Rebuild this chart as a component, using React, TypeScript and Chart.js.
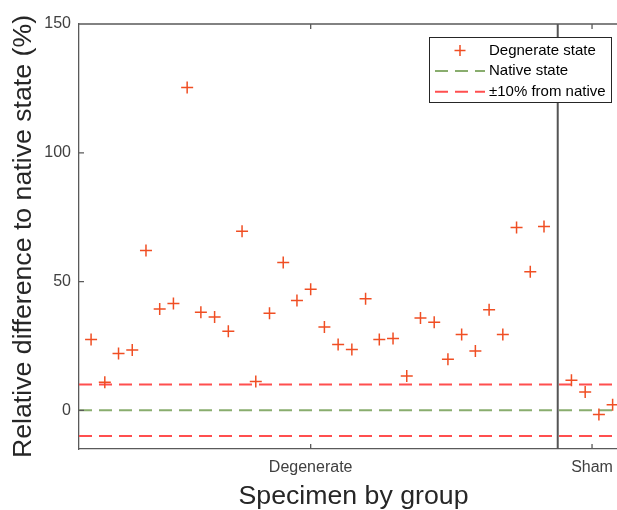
import React, { useEffect, useRef } from 'react';
import { Chart, registerables } from 'chart.js';

Chart.register(...registerables);

// ---- data ----
const degenerateValues = [
  27.5, 10.9, 22.1, 23.4, 62.1, 39.4, 41.5, 125.3, 38.1, 36.2,
  30.7, 69.5, 11.2, 37.7, 57.4, 42.7, 47.0, 32.4, 25.6, 23.6,
  43.3, 27.5, 27.9, 13.3, 35.9, 34.2, 19.8, 29.5, 23.0, 39.1,
  29.5, 71.0, 53.8, 71.4,
];
const shamValues = [11.7, 7.1, -1.6, 2.2];
const groupLabels = ['Degenerate', 'Sham'];
const groupTickPositions = [17, 37.5];
const yTickValues = [0, 50, 100, 150];
const nativeLevel = 0;
const toleranceLevels = [10, -10];
const xRange = [0.12, 40.12];
const yRange = [-15, 150];

const FONT = '"Liberation Sans", Arial, Helvetica, sans-serif';
const AXIS_COLOR = '#5a5a5a';
const MARKER_COLOR = '#f04e23';
const RED_DASH = '#ff4f4f';
const GREEN_DASH = '#89ad6e';

const axisDecorPlugin = {
  id: 'axisDecor',
  afterDatasetsDraw(chart: any) {
    const { ctx, chartArea } = chart;
    const { left, right, top, bottom } = chartArea;
    ctx.save();
    ctx.strokeStyle = AXIS_COLOR;
    ctx.lineWidth = 1.3;
    ctx.beginPath();
    ctx.moveTo(left, top);
    ctx.lineTo(right, top);
    ctx.moveTo(right, top);
    ctx.lineTo(right, bottom);
    const ys = chart.scales.y;
    ys.ticks.forEach((t: any) => {
      const py = ys.getPixelForValue(t.value);
      ctx.moveTo(left, py);
      ctx.lineTo(left + 5, py);
    });
    const xs = chart.scales.x;
    xs.ticks.forEach((t: any) => {
      const px = xs.getPixelForValue(t.value);
      ctx.moveTo(px, bottom);
      ctx.lineTo(px, bottom - 5);
      ctx.moveTo(px, top);
      ctx.lineTo(px, top + 5);
    });
    ctx.stroke();
    ctx.restore();
  },
};

const boxLegendPlugin = {
  id: 'boxLegend',
  afterDraw(chart: any) {
    const ctx = chart.ctx;
    const items = chart.data.datasets.filter((d: any) => d.inLegend);
    const bx = 429.5, by = 37.5, bw = 182, bh = 65;
    ctx.save();
    ctx.fillStyle = '#ffffff';
    ctx.fillRect(bx, by, bw, bh);
    ctx.strokeStyle = '#262626';
    ctx.lineWidth = 1;
    ctx.setLineDash([]);
    ctx.strokeRect(bx, by, bw, bh);
    items.forEach((d: any, i: number) => {
      const cy = 50.5 + i * 20.6;
      const cx = 460;
      if (d.showLine === false) {
        ctx.setLineDash([]);
        ctx.strokeStyle = d.pointBorderColor;
        ctx.lineWidth = d.pointBorderWidth;
        ctx.beginPath();
        ctx.moveTo(cx - 5.5, cy);
        ctx.lineTo(cx + 5.5, cy);
        ctx.moveTo(cx, cy - 5.5);
        ctx.lineTo(cx, cy + 5.5);
        ctx.stroke();
      } else {
        ctx.setLineDash(d.borderDash || []);
        ctx.strokeStyle = d.borderColor;
        ctx.lineWidth = d.borderWidth;
        ctx.beginPath();
        ctx.moveTo(cx - 25, cy);
        ctx.lineTo(cx + 25, cy);
        ctx.stroke();
      }
      ctx.setLineDash([]);
      ctx.fillStyle = '#000000';
      ctx.font = `15px ${FONT}`;
      ctx.textBaseline = 'middle';
      ctx.textAlign = 'left';
      ctx.fillText(d.label, 489, cy);
    });
    ctx.restore();
  },
};

export default function App() {
  const canvasRef = useRef<HTMLCanvasElement | null>(null);

  useEffect(() => {
    document.body.style.margin = '0';
    const canvas = canvasRef.current;
    if (!canvas) return;

    const degData = degenerateValues.map((y, i) => ({ x: i + 1, y }));
    const boundary = degenerateValues.length + 1;
    const shamData = shamValues.map((y, i) => ({ x: boundary + 1 + i, y }));
    const hLine = (v: number) => [
      { x: xRange[0], y: v },
      { x: xRange[1], y: v },
    ];

    const markerStyle = {
      type: 'scatter' as const,
      showLine: false,
      pointStyle: 'cross',
      pointRadius: 6,
      pointHoverRadius: 6,
      pointBorderWidth: 1.5,
      pointBorderColor: MARKER_COLOR,
      pointBackgroundColor: MARKER_COLOR,
      borderColor: MARKER_COLOR,
      backgroundColor: MARKER_COLOR,
    };
    const dashStyle = (color: string) => ({
      type: 'line' as const,
      borderColor: color,
      borderWidth: 2,
      borderDash: [13, 7],
      pointRadius: 0,
      fill: false,
    });

    const chart = new Chart(canvas, {
      type: 'scatter',
      data: {
        datasets: [
          { ...markerStyle, label: 'Degnerate state', data: degData, order: 0, inLegend: true } as any,
          { ...markerStyle, label: '', data: shamData, order: 0 } as any,
          { ...dashStyle(GREEN_DASH), label: 'Native state', data: hLine(nativeLevel), order: 3, inLegend: true } as any,
          { ...dashStyle(RED_DASH), label: '±10% from native', data: hLine(toleranceLevels[0]), order: 2, inLegend: true } as any,
          { ...dashStyle(RED_DASH), label: '', data: hLine(toleranceLevels[1]), order: 2 } as any,
          {
            type: 'line',
            label: '',
            data: [
              { x: boundary, y: yRange[0] },
              { x: boundary, y: yRange[1] },
            ],
            borderColor: '#555555',
            borderWidth: 2,
            pointRadius: 0,
            order: 1,
          } as any,
        ],
      },
      options: {
        animation: false,
        responsive: false,
        devicePixelRatio: 1,
        layout: { autoPadding: false, padding: { left: 0, top: 24, right: 0, bottom: 0 } },
        plugins: {
          legend: { display: false },
          tooltip: { enabled: false },
        },
        scales: {
          x: {
            type: 'linear',
            min: xRange[0],
            max: xRange[1],
            grid: { display: false, drawTicks: false },
            border: { display: true, color: AXIS_COLOR, width: 1.3 },
            afterBuildTicks: (s: any) => {
              s.ticks = groupTickPositions.map((v) => ({ value: v }));
            },
            afterFit: (s: any) => {
              s.height = 61;
              s.paddingLeft = 0;
              s.paddingRight = 0;
            },
            ticks: {
              autoSkip: false,
              maxRotation: 0,
              padding: 9,
              color: '#404040',
              font: { size: 16, family: FONT },
              callback: (_v: any, i: number) => groupLabels[i],
            },
            title: {
              display: true,
              text: 'Specimen by group',
              color: '#262626',
              font: { size: 26.7, family: FONT, lineHeight: 1 },
              padding: { top: 0, bottom: 0 },
            },
          },
          y: {
            type: 'linear',
            min: yRange[0],
            max: yRange[1],
            grid: { display: false, drawTicks: false },
            border: { display: true, color: AXIS_COLOR, width: 1.3 },
            afterBuildTicks: (s: any) => {
              s.ticks = yTickValues.map((v) => ({ value: v }));
            },
            afterFit: (s: any) => {
              s.width = 79;
              s.paddingTop = 0;
              s.paddingBottom = 0;
            },
            ticks: {
              padding: 8,
              color: '#404040',
              font: { size: 16, family: FONT },
              callback: (v: any) => String(v),
            },
            title: {
              display: true,
              text: 'Relative difference to native state (%)',
              color: '#262626',
              font: { size: 26.7, family: FONT, lineHeight: 1 },
              padding: { top: 10, bottom: 0 },
            },
          },
        },
      } as any,
      plugins: [axisDecorPlugin, boxLegendPlugin],
    });

    return () => {
      chart.destroy();
    };
  }, []);

  return (
    <div style={{ width: 617, height: 510, overflow: 'hidden' }}>
      <canvas ref={canvasRef} width={628} height={510} style={{ display: 'block' }} />
    </div>
  );
}
